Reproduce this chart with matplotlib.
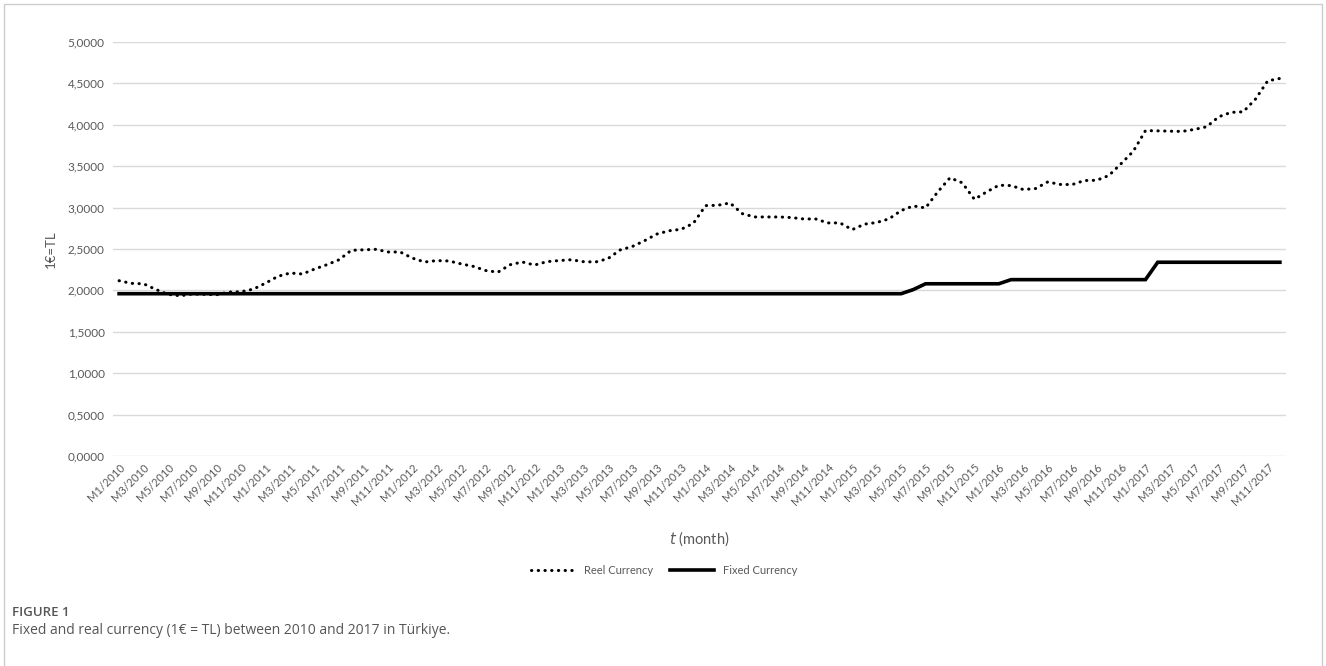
import matplotlib.pyplot as plt
import numpy as np
from matplotlib.patches import Rectangle

# monthly values, M1/2010 .. M12/2017
reel_currency = [
    2.117, 2.085, 2.080, 2.012, 1.952, 1.935, 1.956, 1.952, 1.948, 1.980, 1.984, 2.016,
    2.089, 2.170, 2.210, 2.198, 2.258, 2.310, 2.370, 2.484, 2.490, 2.496, 2.464, 2.464,
    2.390, 2.343, 2.360, 2.355, 2.320, 2.290, 2.240, 2.220, 2.310, 2.343, 2.306, 2.347,
    2.360, 2.370, 2.347, 2.343, 2.383, 2.488, 2.530, 2.600, 2.680, 2.720, 2.738, 2.810,
    3.024, 3.028, 3.056, 2.927, 2.887, 2.887, 2.887, 2.880, 2.863, 2.863, 2.815, 2.815,
    2.734, 2.800, 2.820, 2.863, 2.964, 3.020, 2.996, 3.190, 3.360, 3.300, 3.100, 3.190,
    3.270, 3.266, 3.218, 3.230, 3.310, 3.280, 3.278, 3.327, 3.330, 3.387, 3.530, 3.680,
    3.930, 3.927, 3.923, 3.920, 3.944, 3.976, 4.097, 4.150, 4.157, 4.310, 4.530, 4.560,
]
fixed_currency = [1.96] * 65 + [2.01] + [2.08] * 7 + [2.13] * 12 + [2.34] * 11

years = list(range(2010, 2018))
months = [f"M{m}/{y}" for y in years for m in range(1, 13)]
tick_labels = months[::2]
y_ticks = [0, 0.5, 1.0, 1.5, 2.0, 2.5, 3.0, 3.5, 4.0, 4.5, 5.0]

plt.rcParams['font.family'] = ['Lato', 'DejaVu Sans']
gray = '#595959'

fig = plt.figure(figsize=(13.26, 6.66), dpi=100)
ax = fig.add_axes([113 / 1326, 1 - 456 / 666, 1173 / 1326, 414 / 666])

x = np.arange(len(months))
ax.plot(x, reel_currency, color='black', lw=2.2, linestyle=(0, (0.1, 2.1)),
        dash_capstyle='round', label='Reel Currency')
ax.plot(x, fixed_currency, color='black', lw=2.6, solid_joinstyle='miter',
        label='Fixed Currency')

ax.set_xlim(-0.5, len(months) - 0.5)
ax.set_ylim(0, 5)
ax.set_yticks(y_ticks)
ax.set_yticklabels([f"{v:.4f}".replace('.', ',') for v in y_ticks], color=gray, fontsize=8.5)
ax.set_xticks(x[::2])
ax.set_xticklabels(tick_labels, rotation=45, ha='right', rotation_mode='anchor',
                   color=gray, fontsize=8)
ax.tick_params(length=0, pad=6)
ax.tick_params(axis='x', pad=4)
ax.grid(axis='y', color='#d9d9d9', lw=1)
ax.set_axisbelow(True)
for s in ax.spines.values():
    s.set_visible(False)

ax.set_ylabel('1€=TL', color=gray, fontsize=9.5, labelpad=8)
ax.set_xlabel('$t$ (month)', color=gray, fontsize=10.5, labelpad=16)

ax.legend(loc='upper center', bbox_to_anchor=(0.47, -0.24), ncol=2, frameon=False,
          fontsize=8, handlelength=4, labelcolor=gray, columnspacing=1.5)

# light frame round the picture
fig.patches.append(Rectangle((4 / 1326, -0.01), 1318 / 1326, 1 - 4 / 666 + 0.01,
                             transform=fig.transFigure, fill=False,
                             edgecolor='#cccccc', lw=1))

fig.text(12 / 1326, 1 - 612 / 666, 'FIGURE 1', fontsize=9.5, color='#555555',
         fontweight='semibold', family=['Open Sans', 'DejaVu Sans'], va='center')
fig.text(12 / 1326, 1 - 631 / 666,
         'Fixed and real currency (1€ = TL) between 2010 and 2017 in Türkiye.',
         fontsize=10, color='#555555', family=['Open Sans', 'DejaVu Sans'], va='center')

fig.savefig('out.png', dpi=100)
